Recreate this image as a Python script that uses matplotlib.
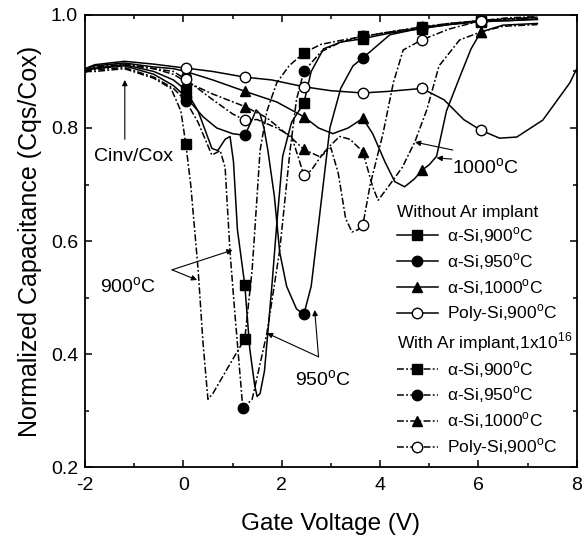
import matplotlib
matplotlib.use("Agg")
import numpy as np
import matplotlib.pyplot as plt
from matplotlib.lines import Line2D

plt.rcParams["font.family"] = ["Liberation Sans", "DejaVu Sans"]
plt.rcParams["mathtext.fontset"] = "custom"
plt.rcParams["mathtext.rm"] = "Liberation Sans"
plt.rcParams["axes.unicode_minus"] = False

# -----------------------------------------------------------------------------
# Digitised C-V curves (gate voltage in V, normalised capacitance Cqs/Cox).
# Each curve: line points + marker points (markers every ~1.2 V).
# -----------------------------------------------------------------------------

# alpha-Si 900C, without Ar implant (solid, square)
A900_X = [-2, -1.8, -1.2, -0.6, -0.2, 0.3, 0.58, 0.7, 0.85, 0.95, 1.02, 1.1,
          1.35, 1.45, 1.5, 1.56, 1.65, 1.8, 1.9, 2.02, 2.2, 2.6, 2.85, 3.2,
          4.2, 5.4, 6.6, 7.2]
A900_Y = [0.903, 0.906, 0.912, 0.90, 0.885, 0.83, 0.764, 0.76, 0.78, 0.785,
          0.74, 0.62, 0.41, 0.345, 0.325, 0.33, 0.37, 0.52, 0.63, 0.75, 0.81,
          0.90, 0.94, 0.952, 0.968, 0.983, 0.99, 0.992]
A900_MX = [0.05, 1.25, 2.45, 3.65, 4.85, 6.05]
A900_MY = [0.867, 0.522, 0.844, 0.958, 0.976, 0.988]

# alpha-Si 950C, without Ar implant (solid, filled circle)
A950_X = [-2, -1.8, -1.2, -0.6, -0.2, 0.4, 0.68, 1.0, 1.4, 1.48, 1.56, 1.64,
          1.72, 1.85, 1.96, 2.1, 2.3, 2.6, 2.75, 2.98, 3.2, 3.45, 4.2, 5.4,
          6.6, 7.2]
A950_Y = [0.902, 0.905, 0.91, 0.895, 0.875, 0.82, 0.80, 0.79, 0.815, 0.832,
          0.825, 0.80, 0.76, 0.68, 0.58, 0.52, 0.48, 0.52, 0.63, 0.80, 0.87,
          0.91, 0.965, 0.983, 0.99, 0.993]
A950_MX = [0.05, 1.25, 2.45, 3.65, 4.85, 6.05]
A950_MY = [0.855, 0.787, 0.47, 0.924, 0.977, 0.99]

# alpha-Si 1000C, without Ar implant (solid, triangle)
A1000_X = [-2, -1.8, -1.2, -0.6, -0.2, 0.6, 1.9, 2.75, 3.04, 3.35, 3.85,
           4.1, 4.3, 4.5, 4.7, 5.0, 5.15, 5.35, 5.62, 5.85, 6.5, 7.2]
A1000_Y = [0.904, 0.91, 0.915, 0.908, 0.905, 0.885, 0.846, 0.80, 0.79, 0.80,
           0.79, 0.74, 0.705, 0.696, 0.71, 0.735, 0.75, 0.83, 0.89, 0.94,
           0.982, 0.985]
A1000_MX = [0.05, 1.25, 2.45, 3.65, 4.85, 6.05]
A1000_MY = [0.90, 0.865, 0.82, 0.817, 0.725, 0.97]

# poly-Si 900C, without Ar implant (solid, open circle)
P900_X = [-2, -1.8, -1.2, -0.6, 0.6, 1.8, 3.0, 4.2, 5.3, 5.7, 6.43, 6.78,
          7.31, 7.86, 8.0]
P900_Y = [0.905, 0.912, 0.918, 0.913, 0.90, 0.885, 0.866, 0.865, 0.85, 0.815,
          0.782, 0.784, 0.814, 0.88, 0.905]
P900_MX = [0.05, 1.25, 2.45, 3.65, 4.85, 6.05]
P900_MY = [0.906, 0.89, 0.873, 0.862, 0.87, 0.796]

# alpha-Si 900C, Ar implant 1e16 (dash-dot, square)
B900_X = [-2, -1.8, -1.2, -0.6, -0.25, -0.05, 0.15, 0.3, 0.4, 0.5, 0.6, 0.8,
          1.0, 1.4, 1.5, 1.56, 1.7, 1.9, 2.15, 2.8, 3.2, 4.2, 5.4, 6.6, 7.2]
B900_Y = [0.90, 0.90, 0.905, 0.888, 0.87, 0.83, 0.70, 0.55, 0.42, 0.32, 0.33,
          0.36, 0.39, 0.55, 0.68, 0.76, 0.83, 0.88, 0.91, 0.948, 0.955, 0.97,
          0.985, 0.993, 0.995]
B900_MX = [0.05, 1.25, 2.45, 3.65, 4.85, 6.05]
B900_MY = [0.772, 0.427, 0.933, 0.962, 0.978, 0.99]

# alpha-Si 950C, Ar implant (dash-dot, filled circle)
B950_X = [-2, -1.8, -1.2, -0.6, -0.2, 0.3, 0.58, 0.75, 0.85, 0.95, 1.05,
          1.4, 1.7, 1.96, 2.17, 2.3, 2.8, 3.2, 4.2, 5.4, 6.6, 7.2]
B950_Y = [0.90, 0.903, 0.907, 0.89, 0.87, 0.81, 0.752, 0.76, 0.73, 0.58,
          0.47, 0.32, 0.437, 0.584, 0.76, 0.85, 0.935, 0.952, 0.97, 0.985,
          0.993, 0.996]
B950_MX = [0.05, 1.21, 2.45, 3.65, 4.85, 6.05]
B950_MY = [0.848, 0.304, 0.90, 0.962, 0.979, 0.99]

# alpha-Si 1000C, Ar implant (dash-dot, triangle)
B1000_X = [-2, -1.8, -1.2, -0.6, -0.2, 0.6, 1.7, 2.23, 2.78, 3.0, 3.18, 3.39,
           3.85, 3.96, 4.2, 4.45, 4.71, 4.95, 5.2, 5.62, 6.5, 7.2]
B1000_Y = [0.90, 0.908, 0.913, 0.905, 0.895, 0.86, 0.818, 0.78, 0.749, 0.77,
           0.785, 0.78, 0.696, 0.672, 0.70, 0.73, 0.776, 0.832, 0.91, 0.956,
           0.98, 0.983]
B1000_MX = [0.05, 1.25, 2.45, 3.65, 6.05]
B1000_MY = [0.882, 0.838, 0.762, 0.758, 0.97]

# poly-Si 900C, Ar implant (dash-dot, open circle)
Q900_X = [-2, -1.8, -1.2, -0.6, -0.2, 0.6, 1.0, 1.5, 1.9, 2.2, 2.35, 2.6,
          2.8, 3.0, 3.15, 3.3, 3.43, 3.55, 3.8, 4.06, 4.27, 4.47, 5.4, 6.6,
          7.2]
Q900_Y = [0.898, 0.906, 0.912, 0.905, 0.90, 0.85, 0.825, 0.815, 0.80, 0.785,
          0.745, 0.725, 0.75, 0.765, 0.72, 0.64, 0.616, 0.62, 0.70, 0.79,
          0.88, 0.938, 0.975, 0.995, 0.997]
Q900_MX = [0.05, 1.25, 2.45, 3.65, 4.85, 6.05]
Q900_MY = [0.886, 0.814, 0.716, 0.628, 0.956, 0.99]

LABELS = ["\u03b1-Si,900$^{\\mathrm{o}}$C", "\u03b1-Si,950$^{\\mathrm{o}}$C",
          "\u03b1-Si,1000$^{\\mathrm{o}}$C", "Poly-Si,900$^{\\mathrm{o}}$C"]

SOLID = "-"
DASHDOT = (0, (4.5, 1.5, 1.2, 1.5))


def merge(x, y, mx, my):
    xs = np.concatenate([x, mx])
    ys = np.concatenate([y, my])
    order = np.argsort(xs, kind="stable")
    return xs[order], ys[order]


def draw_curve(ax, x, y, mx, my, ls, marker, filled):
    lx, ly = merge(x, y, mx, my)
    ax.plot(lx, ly, color="black", ls=ls, lw=1.1, zorder=2)
    ax.plot(mx, my, ls="none", marker=marker, ms=7.5 if marker != "s" else 7,
            mfc="black" if filled else "white", mec="black", mew=1.0,
            zorder=3)


fig = plt.figure(figsize=(5.82, 5.35), dpi=100)
ax = fig.add_axes([0.146, 0.127, 0.845, 0.845])

curves = [
    (A900_X, A900_Y, A900_MX, A900_MY, SOLID, "s", True),
    (A950_X, A950_Y, A950_MX, A950_MY, SOLID, "o", True),
    (A1000_X, A1000_Y, A1000_MX, A1000_MY, SOLID, "^", True),
    (B900_X, B900_Y, B900_MX, B900_MY, DASHDOT, "s", True),
    (B950_X, B950_Y, B950_MX, B950_MY, DASHDOT, "o", True),
    (B1000_X, B1000_Y, B1000_MX, B1000_MY, DASHDOT, "^", True),
    (Q900_X, Q900_Y, Q900_MX, Q900_MY, DASHDOT, "o", False),
    (P900_X, P900_Y, P900_MX, P900_MY, SOLID, "o", False),
]
for c in curves:
    draw_curve(ax, *c)

ax.set_xlim(-2, 8)
ax.set_ylim(0.2, 1.0)
ax.set_xticks(np.arange(-2, 9, 2))
ax.set_xticks(np.arange(-1, 8, 2), minor=True)
ax.set_yticks(np.arange(0.2, 1.01, 0.2))
ax.set_yticks(np.arange(0.3, 1.0, 0.2), minor=True)
ax.set_yticklabels(["0.2", "0.4", "0.6", "0.8", "1.0"])
ax.tick_params(which="both", direction="in", top=True, right=True,
               labelsize=14, width=1.1)
ax.tick_params(axis="y", which="both", pad=5)
ax.tick_params(axis="x", which="both", pad=7.5)
ax.tick_params(which="major", length=5)
ax.tick_params(which="minor", length=3)
for s in ax.spines.values():
    s.set_linewidth(1.3)

ax.set_xlabel("Gate Voltage (V)", fontsize=17.5, labelpad=13)
ax.set_ylabel("Normalized Capacitance (Cqs/Cox)", fontsize=18, labelpad=6)

# annotations
arr = dict(arrowstyle="-|>", color="black", lw=0.8, mutation_scale=8,
           shrinkA=0, shrinkB=0)
ax.text(-1.02, 0.749, "Cinv/Cox", fontsize=14, ha="center", va="center")
ax.annotate("", xy=(-1.19, 0.885), xytext=(-1.19, 0.78), arrowprops=arr)
ax.text(-1.12, 0.519, "900$^{\\mathrm{o}}$C", fontsize=14,
        ha="center", va="center")
ax.annotate("", xy=(1.0, 0.584), xytext=(-0.23, 0.549), arrowprops=arr)
ax.annotate("", xy=(0.28, 0.531), xytext=(-0.23, 0.549), arrowprops=arr)
ax.text(2.85, 0.354, "950$^{\\mathrm{o}}$C", fontsize=14,
        ha="center", va="center")
ax.annotate("", xy=(1.70, 0.437), xytext=(2.75, 0.395), arrowprops=arr)
ax.annotate("", xy=(2.67, 0.478), xytext=(2.75, 0.395), arrowprops=arr)
ax.text(6.15, 0.729, "1000$^{\\mathrm{o}}$C", fontsize=14,
        ha="center", va="center")
ax.annotate("", xy=(4.71, 0.775), xytext=(5.48, 0.761), arrowprops=arr)
ax.annotate("", xy=(5.15, 0.747), xytext=(5.46, 0.745), arrowprops=arr)


# legends: two groups, each with a left-aligned title
def handles(ls):
    hs = []
    for i, m in enumerate(["s", "o", "^", "o"]):
        filled = i != 3
        hs.append(Line2D([], [], color="black", ls=ls, lw=1.1, marker=m,
                         ms=7.5 if m != "s" else 7,
                         mfc="black" if filled else "white", mec="black"))
    return hs


leg_kw = dict(frameon=False, fontsize=12.5, title_fontsize=12.5,
              handlelength=2.35, handletextpad=0.55, labelspacing=0.3,
              borderpad=0, borderaxespad=0, numpoints=1, alignment="left")
leg1 = ax.legend(handles(SOLID), LABELS, title="Without Ar implant",
                 loc="upper left", bbox_to_anchor=(0.634, 0.58), **leg_kw)
ax.add_artist(leg1)
leg2 = ax.legend(handles(DASHDOT), LABELS,
                 title="With Ar implant,1x10$^{16}$",
                 loc="upper left", bbox_to_anchor=(0.634, 0.303), **leg_kw)

fig.savefig("out.png", dpi=100)
